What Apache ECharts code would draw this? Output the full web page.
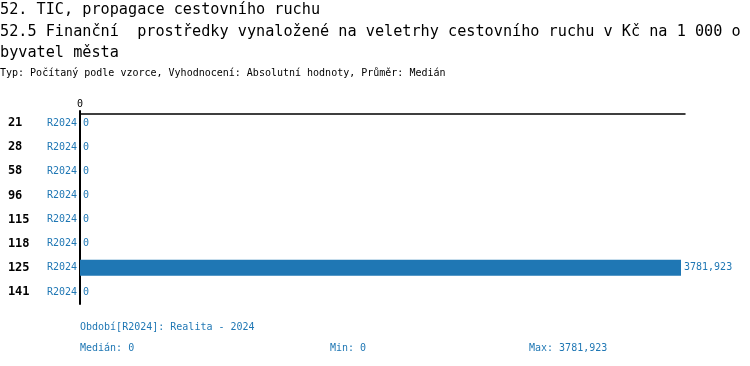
<!DOCTYPE html>
<html><head><meta charset="utf-8">
<script src="https://cdn.jsdelivr.net/npm/echarts@6/dist/echarts.min.js"></script>
<style>html,body{margin:0;padding:0;background:#fff}#c{width:750px;height:366px}</style>
</head><body><div id="c"></div>
<script>
const categories = ['21','28','58','96','115','118','125','141'];
const periodLabel = 'R2024';
const values = [0,0,0,0,0,0,3781.923,0];
const xTickLabels = ['0'];
const titleLine1 = '52. TIC, propagace cestovního ruchu';
const titleLine2 = '52.5 Finanční  prostředky vynaložené na veletrhy cestovního ruchu v Kč na 1 000 o';
const titleLine3 = 'byvatel města';
const subtitle = 'Typ: Počítaný podle vzorce, Vyhodnocení: Absolutní hodnoty, Průměr: Medián';
const footPeriod = 'Období[R2024]: Realita - 2024';
const footMedian = 'Medián: 0';
const footMin = 'Min: 0';
const footMax = 'Max: 3781,923';

const MONO = '"DejaVu Sans Mono", "Liberation Mono", monospace';
const BLUE = '#1f77b4';
const fmt = v => String(v).replace('.', ',');
const maxVal = Math.max(...values);

const chart = echarts.init(document.getElementById('c'), null, {renderer:'canvas'});
function txt(t, x, y, size, color, weight){
  return {type:'text', left:x, top:y, style:{text:t, font:(weight||'normal')+' '+size+'px '+MONO, fill:color}};
}
chart.setOption({
  animation:false,
  backgroundColor:'#fff',
  graphic:[
    txt(titleLine1, 0, 3, 15.2, '#000'),
    txt(titleLine2, 0, 25, 15.2, '#000'),
    txt(titleLine3, 0, 46, 15.2, '#000'),
    txt(subtitle, 0, 68, 10, '#000'),
    txt(footPeriod, 80, 322, 10, BLUE),
    txt(footMedian, 80, 343, 10, BLUE),
    txt(footMin, 330, 343, 10, BLUE),
    txt(footMax, 529, 343, 10, BLUE)
  ],
  grid:{left:80, right:65, top:111, height:193, containLabel:false},
  xAxis:{
    type:'value', position:'top', min:0, max:maxVal*605/601, offset:-3,
    axisLine:{show:true, lineStyle:{color:'#000', width:1.5}},
    axisTick:{show:false}, splitLine:{show:false},
    axisLabel:{margin:5, fontFamily:MONO, fontSize:10, color:'#000',
      formatter:v => xTickLabels.includes(String(v)) ? String(v) : ''}
  },
  yAxis:{
    type:'category', data:categories, inverse:true,
    axisLine:{show:true, lineStyle:{color:'#000', width:2}},
    axisTick:{show:false},
    axisLabel:{margin:3, align:'right',
      formatter:c => '{a|' + c + '}{b|' + periodLabel + '}',
      rich:{
        a:{fontFamily:MONO, fontSize:12, fontWeight:'bold', color:'#000', width:39, align:'left'},
        b:{fontFamily:MONO, fontSize:10, color:BLUE}
      }}
  },
  series:[{
    type:'bar', data:values, barWidth:16,
    itemStyle:{color:BLUE},
    label:{show:true, position:'right', distance:3, fontFamily:MONO, fontSize:10, color:BLUE,
      formatter:p => fmt(p.value)}
  }]
});
</script></body></html>
